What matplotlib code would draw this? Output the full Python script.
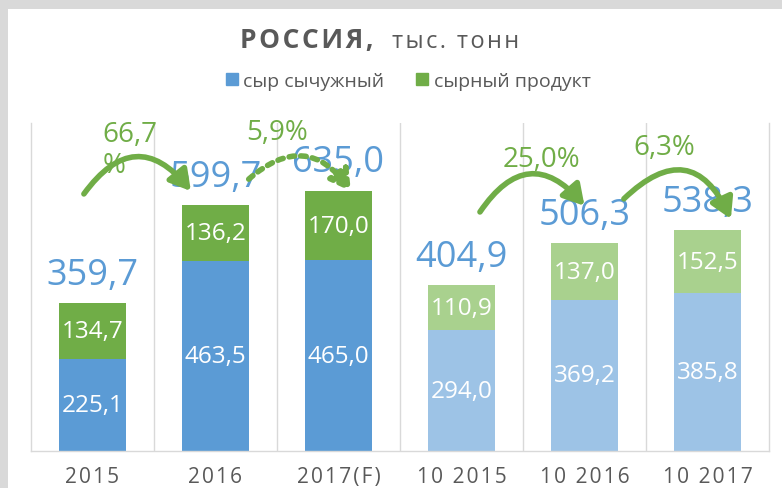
import matplotlib
matplotlib.use("Agg")
import matplotlib.pyplot as plt
from matplotlib.patches import Patch, Rectangle

plt.rcParams['font.family'] = ['Open Sans', 'DejaVu Sans']

# data
categories = ['2015', '2016', '2017(F)', '10 2015', '10 2016', '10 2017']
rennet = [225.1, 463.5, 465.0, 294.0, 369.2, 385.8]      # сыр сычужный
product = [134.7, 136.2, 170.0, 110.9, 137.0, 152.5]     # сырный продукт
totals = [359.7, 599.7, 635.0, 404.9, 506.3, 538.3]
pct_labels = ['66,7\n%', '5,9%', '25,0%', '6,3%']

# colours
blue, green = '#5B9BD5', '#70AD47'
lblue, lgreen = '#9DC3E6', '#A9D18E'
gray = '#595959'
grid = '#D9D9D9'

HAIR = '\u200a'

def spaced(s):
    return HAIR.join(s)

fig = plt.figure(figsize=(7.82, 4.89), dpi=100, facecolor=grid)
fig.patches.append(Rectangle((8/782, 0), 1, 1 - 10/489, transform=fig.transFigure,
                             facecolor='white', edgecolor='none', zorder=-10))

ax = fig.add_axes([31/782, 37/489, 738/782, 328/489])
ax.set_facecolor('none')

x = list(range(len(categories)))
cb = [blue]*3 + [lblue]*3
cg = [green]*3 + [lgreen]*3
ax.bar(x, rennet, width=0.55, color=cb, zorder=2)
ax.bar(x, product, width=0.55, bottom=rennet, color=cg, zorder=2)

def fmt(v):
    return f"{v:.1f}".replace('.', ',')

for i in x:
    ax.text(i, rennet[i]/2, fmt(rennet[i]), ha='center', va='center',
            color='white', fontsize=17.5, zorder=3)
    ax.text(i, rennet[i] + product[i]/2, fmt(product[i]), ha='center', va='center',
            color='white', fontsize=17.5, zorder=3)
    ax.annotate(fmt(totals[i]), (i, totals[i]), xytext=(0, 14), textcoords='offset points',
                ha='center', va='baseline', fontsize=26, color=blue, zorder=4)

# growth arrows (start, end, curvature, style)
arrows = [((-0.07, 627), (0.80, 634), -0.65, '-'),
          ((1.27, 663), (2.10, 634), -0.55, ':'),
          ((3.15, 583), (4.00, 598), -0.65, '-'),
          ((4.32, 615), (5.19, 566), -0.7, '-')]
pct_pos = [(0.08, 735, 'left'), (1.50, 778, 'center'), (3.65, 712, 'center'), (4.65, 741, 'center')]

for (s, e, rad, ls), lab, (px, py, ha) in zip(arrows, pct_labels, pct_pos):
    ax.text(px, py, lab, ha=ha, va='center', color=green, fontsize=20, zorder=5,
            linespacing=1.15)
    ax.annotate('', xy=e, xytext=s, zorder=6,
                arrowprops=dict(arrowstyle='-|>,head_length=0.55,head_width=0.32',
                                connectionstyle=f'arc3,rad={rad}', lw=4, color=green,
                                linestyle=(0, (1, 1.1)) if ls == ':' else '-',
                                shrinkA=0, shrinkB=0, mutation_scale=22))

ax.set_xlim(-0.5, 5.5)
ax.set_ylim(0, 800)
ax.set_yticks([])
ax.set_xticks(x)
ax.set_xticklabels([spaced(c) for c in categories], fontsize=15, color=gray)
ax.set_xticks([i + 0.5 for i in x[:-1]], minor=True)
ax.tick_params(axis='x', which='both', length=0, pad=11)
ax.grid(axis='x', which='minor', color=grid, lw=1, zorder=0)
ax.spines['top'].set_visible(False)
for sp in ['left', 'right', 'bottom']:
    ax.spines[sp].set_color(grid)
    ax.spines[sp].set_linewidth(1)

# title
fig.text(373/782, 1 - 48/489, spaced('РОССИЯ,'), ha='right', va='baseline', fontsize=19,
         fontweight='bold', color=gray)
fig.text(392/782, 1 - 48/489, spaced('тыс. тонн'), ha='left', va='baseline', fontsize=17,
         color=gray)

# legend
handles = [Patch(color=blue), Patch(color=green)]
fig.legend(handles, ['сыр сычужный', 'сырный продукт'], loc='center',
           bbox_to_anchor=(408/782, 1 - 82/489), ncol=2, frameon=False, fontsize=14,
           labelcolor=gray, handlelength=0.62, handleheight=0.62, handletextpad=0.3,
           columnspacing=1.6)

fig.savefig('out.png', dpi=100, facecolor=fig.get_facecolor())
